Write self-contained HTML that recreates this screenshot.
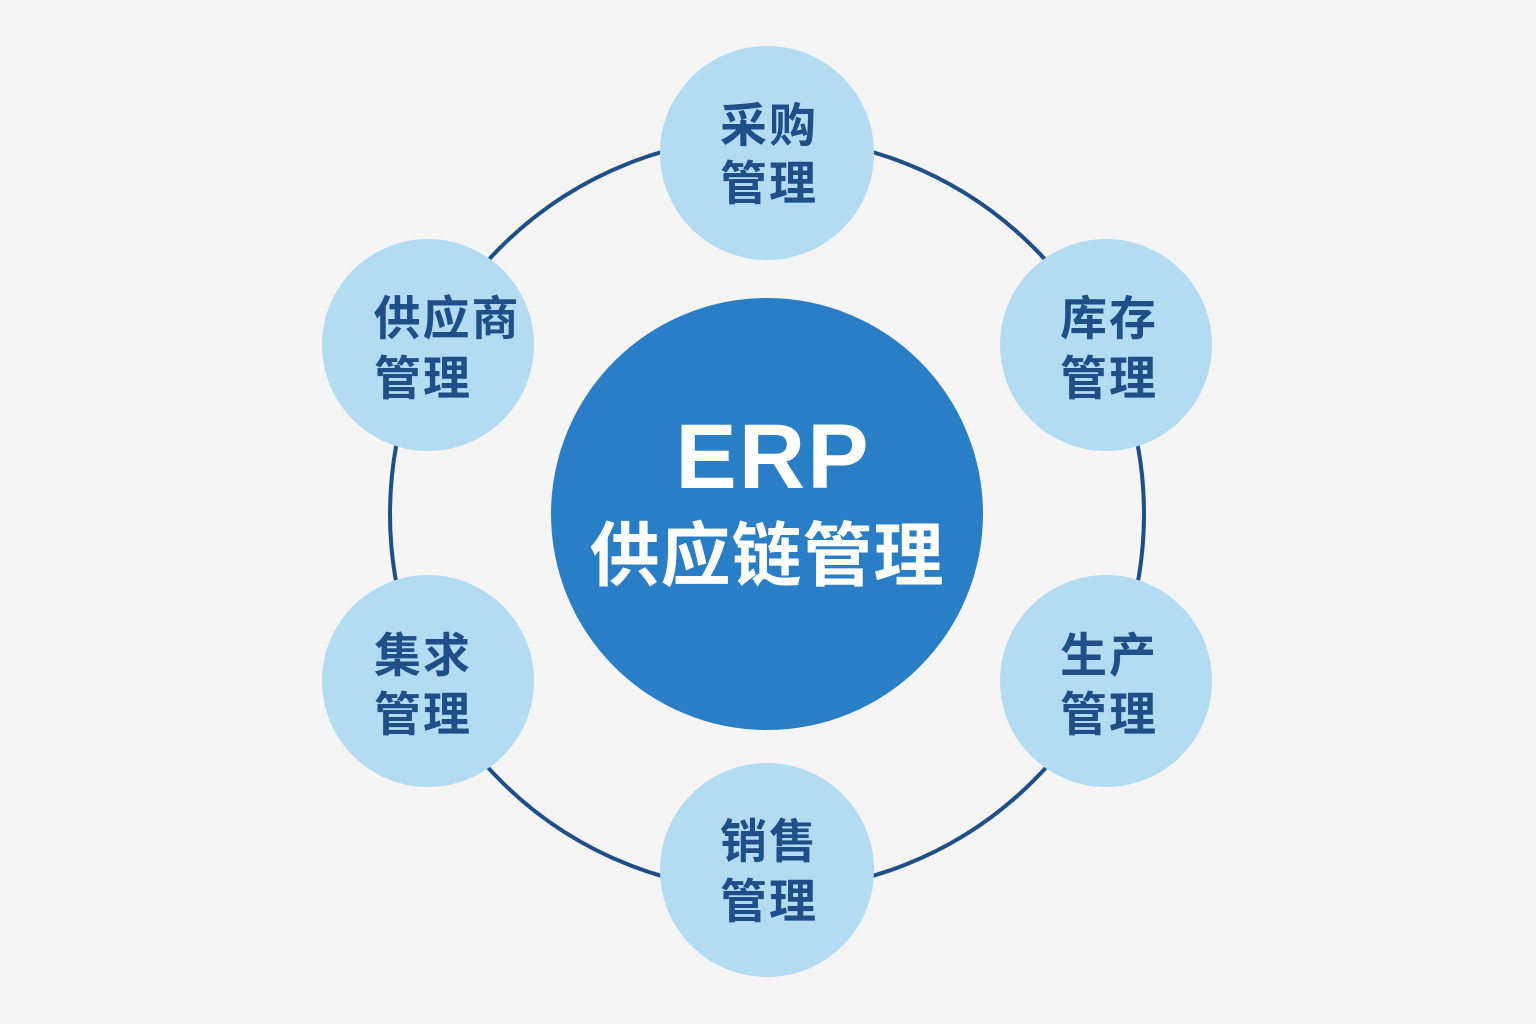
<!DOCTYPE html>
<html><head><meta charset="utf-8"><style>
html,body{margin:0;padding:0;background:#f5f5f6;}
svg{display:block}
text{font-family:"Liberation Sans","Noto Sans CJK SC",sans-serif;font-weight:bold}
.s{fill:#1f4f86;font-size:47px;letter-spacing:2px}
</style></head><body>
<svg width="1536" height="1024" viewBox="0 0 1536 1024">
<rect width="1536" height="1024" fill="#f5f5f6"/>
<circle cx="767" cy="514" r="377" fill="none" stroke="#1f4f86" stroke-width="4"/>
<circle cx="767" cy="514" r="216" fill="#2a7ec6"/>
<g fill="#b3dcf3">
<circle cx="767" cy="153" r="107"/>
<circle cx="1106" cy="345" r="106"/>
<circle cx="1106" cy="681" r="106"/>
<circle cx="767" cy="870" r="107"/>
<circle cx="428" cy="681" r="106"/>
<circle cx="428" cy="345" r="106"/>
</g>
<text x="773" y="488" fill="#fff" font-size="92" text-anchor="middle" letter-spacing="2">ERP</text>
<text x="767" y="580" fill="#fff" font-size="70" text-anchor="middle" letter-spacing="1">供应链管理</text>
<g class="s" text-anchor="middle">
<text x="769" y="142" class="s">采购</text><text x="769" y="200" class="s">管理</text>
<text x="1109" y="335" class="s">库存</text><text x="1109" y="395" class="s">管理</text>
<text x="1109" y="672" class="s">生产</text><text x="1109" y="731" class="s">管理</text>
<text x="769" y="858" class="s">销售</text><text x="769" y="918" class="s">管理</text>
<text x="423" y="672" class="s">集求</text><text x="423" y="395" class="s">管理</text>
<text x="447" y="335" class="s">供应商</text><text x="423" y="731" class="s">管理</text>
</g>
</svg>
</body></html>
